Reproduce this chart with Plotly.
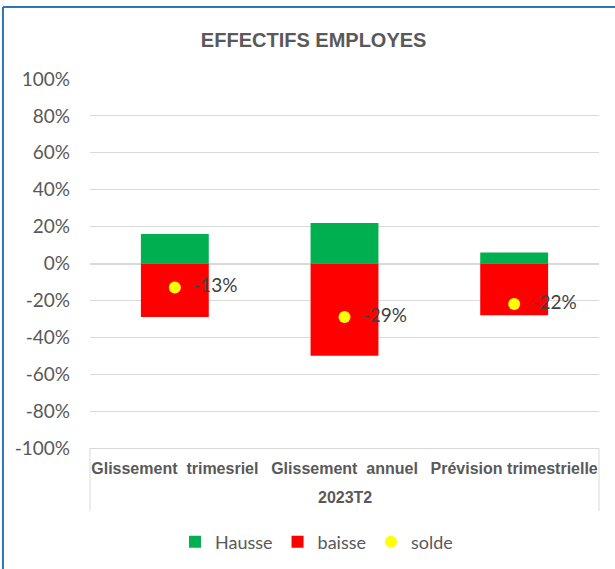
import plotly.graph_objects as go

periode = "2023T2"
categories = ["Glissement\u00a0 trimesriel", "Glissement\u00a0 annuel", "Prévision trimestrielle"]
hausse = [0.16, 0.22, 0.06]
baisse = [-0.29, -0.50, -0.28]
solde = [-0.13, -0.29, -0.22]
y_ticks = [-1, -0.8, -0.6, -0.4, -0.2, 0, 0.2, 0.4, 0.6, 0.8, 1]
y_labels = ["-100%", "-80%", "-60%", "-40%", "-20%", "0%", "20%", "40%", "60%", "80%", "100%"]

gris = "#595959"
bold_cats = [f"<b>{c}</b>" for c in categories]

fig = go.Figure()
fig.add_trace(
    go.Bar(x=bold_cats, y=hausse, name="Hausse", marker_color="#00B050", width=0.4,
           marker_line_width=0)
)
fig.add_trace(
    go.Bar(x=bold_cats, y=baisse, name="baisse", marker_color="#FF0000", width=0.4,
           marker_line_width=0)
)
fig.add_trace(
    go.Scatter(x=bold_cats, y=solde, name="solde", mode="markers+text",
               marker=dict(color="#FFFF00", size=12),
               text=["\u00a0\u00a0" + f"{v * 100:.0f}%" for v in solde],
               textposition="middle right",
               textfont=dict(family="Lato, sans-serif", size=19, color="#404040"))
)

fig.update_layout(
    width=615, height=569,
    barmode="relative",
    paper_bgcolor="white", plot_bgcolor="white",
    margin=dict(l=90, r=16, t=79, b=121, autoexpand=False),
    title=dict(text="<b>EFFECTIFS EMPLOYES</b>", x=0.51, xanchor="center",
               y=0.93, yanchor="middle",
               font=dict(family="Liberation Sans, Arial", size=20, color=gris)),
    font=dict(family="Lato, sans-serif", color=gris),
    legend=dict(orientation="h", x=0.445, xanchor="center", y=-0.255, yanchor="middle",
                font=dict(size=18, color=gris), itemwidth=30, traceorder="normal"),
    showlegend=True,
)
fig.update_yaxes(range=[-1, 1], tickvals=y_ticks, ticktext=y_labels, showgrid=True,
                 gridcolor="#D9D9D9", gridwidth=1, zeroline=True, zerolinecolor="#D9D9D9",
                 showline=False, tickfont=dict(size=19, color=gris), ticks="",
                 ticklabelstandoff=19, automargin=False)
fig.update_xaxes(type="category", showline=True, linecolor="#D9D9D9", linewidth=1,
                 tickfont=dict(family="Liberation Sans, Arial", size=16, color=gris),
                 ticks="outside", ticklen=6, tickcolor="rgba(0,0,0,0)", automargin=False)

# libelle de la periode et cadre de l'axe
fig.add_annotation(text=f"<b>{periode}</b>", xref="paper", yref="paper", x=0.5, y=-0.133,
                   showarrow=False, yanchor="middle",
                   font=dict(family="Liberation Sans, Arial", size=16, color=gris))
for xp in [0, 1]:
    fig.add_shape(type="line", xref="paper", yref="paper", x0=xp, x1=xp, y0=0, y1=-0.171,
                  line=dict(color="#D9D9D9", width=1))

# bordure du graphique
fig.add_shape(type="line", xref="paper", yref="paper", x0=-0.171, x1=1.04, y0=1.195, y1=1.195,
              line=dict(color="#2E75B6", width=2))
fig.add_shape(type="line", xref="paper", yref="paper", x0=-0.171, x1=-0.171, y0=1.195, y1=-0.35,
              line=dict(color="#2E75B6", width=2))

fig.write_html("out.html", config={"displayModeBar": False},
               post_script="document.body.style.margin='0';")
